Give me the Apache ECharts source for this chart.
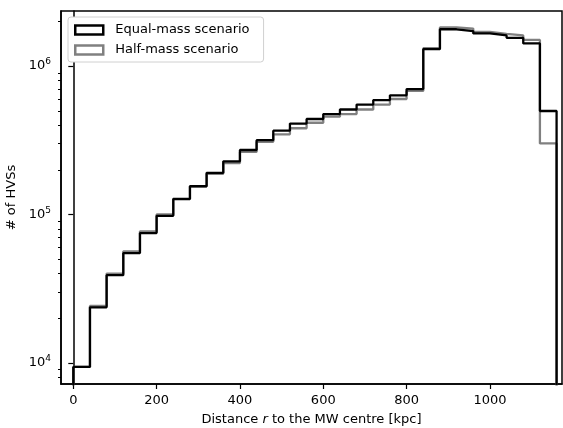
<!DOCTYPE html>
<html><head><meta charset="utf-8">
<script src="https://cdn.jsdelivr.net/npm/echarts@6/dist/echarts.min.js"></script>
<style>html,body{margin:0;padding:0;background:#fff}#c{width:563px;height:428px}</style>
</head><body><div id="c"></div>
<script>
const binEdges = [0,40,80,120,160,200,240,280,320,360,400,440,480,520,560,600,640,680,720,760,800,840,880,920,960,1000,1040,1080,1120,1160];
const equalMass = [9400,23700,39000,55000,75000,98000,127000,155000,191000,228000,272000,317000,367000,410000,440000,475000,510000,550000,590000,635000,700000,1300000,1770000,1720000,1660000,1610000,1550000,1420000,498000];
const halfMass = [9400,24200,40000,56500,77000,100000,128000,155000,188000,222000,264000,309000,347000,381000,415000,456000,475000,510000,550000,600000,680000,1320000,1820000,1790000,1700000,1650000,1610000,1500000,301000];
const xTicks = [0,200,400,600,800,1000];
const yMajor = [1e4,1e5,1e6];
const yMinor = [8e3,9e3,2e4,3e4,4e4,5e4,6e4,7e4,8e4,9e4,2e5,3e5,4e5,5e5,6e5,7e5,8e5,9e5,2e6];
const FLOOR = 1;

function stepData(vals){
  const d = [[binEdges[0], FLOOR]];
  vals.forEach((v,i)=>d.push([binEdges[i], v]));
  d.push([binEdges[binEdges.length-1], vals[vals.length-1]]);
  d.push([binEdges[binEdges.length-1], FLOOR]);
  return d;
}
const font = 'DejaVu Sans';
const chart = echarts.init(document.getElementById('c'), null, {renderer:'canvas'});
const yBase = {type:'log', min:7210, max:2.35e6, splitLine:{show:false}, axisLine:{show:true, lineStyle:{color:'#000', width:1.5}}};
chart.setOption({
  animation:false,
  backgroundColor:'#fff',
  grid:{left:61, right:1, top:11, bottom:44, containLabel:false, outerBoundsMode:'none',
        show:true, borderColor:'#000', borderWidth:1.5, backgroundColor:'#fff'},
  legend:{
    orient:'vertical', left:68, top:17,
    data:[
      {name:'Equal-mass scenario', icon:'rect', itemStyle:{color:'#fff', borderColor:'#000', borderWidth:2.5}},
      {name:'Half-mass scenario', icon:'rect', itemStyle:{color:'#fff', borderColor:'#808080', borderWidth:2.5}}
    ],
    itemWidth:28, itemHeight:9, itemGap:6,
    backgroundColor:'#fff', borderColor:'#d0d0d0', borderWidth:1, borderRadius:3,
    padding:[6,14,5,6],
    textStyle:{fontFamily:font, fontSize:13, color:'#000', lineHeight:14, padding:[0,0,0,7]}
  },
  xAxis:{
    type:'value', min:-29.5, max:1173,
    splitLine:{show:false},
    axisLine:{show:true, onZero:false, lineStyle:{color:'#000', width:1.5}},
    axisTick:{show:true, inside:false, length:5, lineStyle:{color:'#000', width:1.2}, customValues:xTicks},
    axisLabel:{customValues:xTicks, fontFamily:font, fontSize:13, color:'#000', margin:10,
      formatter:function(v){return String(v);}},
    name:'Distance {i|r} to the MW centre [kpc]', nameLocation:'middle', nameGap:29.5,
    nameTextStyle:{fontFamily:font, fontSize:13, color:'#000', rich:{i:{fontStyle:'italic', fontFamily:font, fontSize:13}}}
  },
  yAxis:[
    Object.assign({}, yBase, {
      axisTick:{show:true, length:5, lineStyle:{color:'#000', width:1.2}, customValues:yMajor},
      axisLabel:{customValues:yMajor, margin:10, fontFamily:font, fontSize:13, color:'#000',
        formatter:function(v){return '10{s|'+Math.round(Math.log10(v))+'}';},
        rich:{s:{fontSize:9, verticalAlign:'top', padding:[0,0,8,0], fontFamily:font, color:'#000'}}},
      name:'# of HVSs', nameLocation:'middle', nameGap:38, nameRotate:90,
      nameTextStyle:{fontFamily:font, fontSize:13, color:'#000'}
    }),
    Object.assign({}, yBase, {
      position:'left',
      axisTick:{show:true, length:3, lineStyle:{color:'#000', width:1}, customValues:yMinor},
      axisLabel:{show:false, customValues:yMinor}
    })
  ],
  series:[
    {name:'Half-mass scenario', type:'line', step:'end', data:stepData(halfMass), showSymbol:false, symbol:'none', clip:true,
     lineStyle:{color:'#808080', width:2.3}, itemStyle:{color:'#808080'}, z:2},
    {name:'Equal-mass scenario', type:'line', step:'end', data:stepData(equalMass), showSymbol:false, symbol:'none', clip:true,
     lineStyle:{color:'#000', width:2.3}, itemStyle:{color:'#000'}, z:3}
  ]
});
</script></body></html>
